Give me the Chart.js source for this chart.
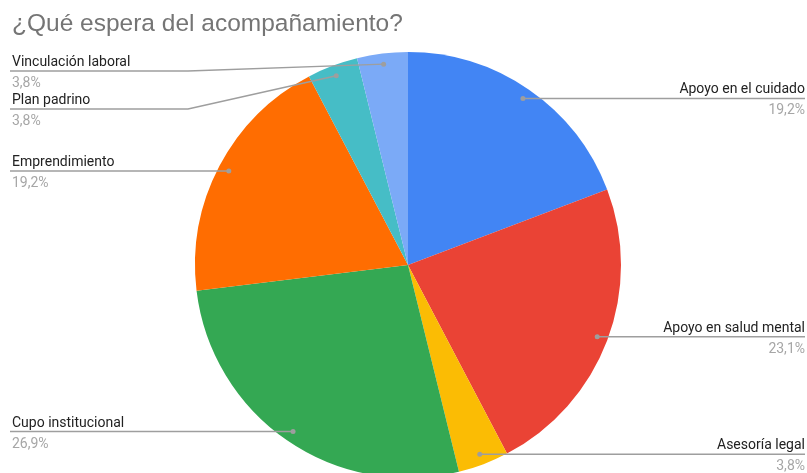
<!DOCTYPE html>
<html>
<head>
<meta charset="utf-8">
<script src="https://cdn.jsdelivr.net/npm/chart.js@4"></script>
<style>
  html, body { margin: 0; padding: 0; background: #fff; }
  #wrap { position: relative; width: 807px; height: 473px; overflow: hidden; }
  canvas { display: block; }
</style>
</head>
<body>
<div id="wrap"><canvas id="c" width="807" height="500"></canvas></div>
<script>
const titleText = "¿Qué espera del acompañamiento?";
const categories = ["Apoyo en el cuidado", "Apoyo en salud mental", "Asesoría legal", "Cupo institucional", "Emprendimiento", "Plan padrino", "Vinculación laboral"];
const counts = [5, 6, 1, 7, 5, 1, 1];
const sliceColors = ["#4285F4", "#EA4335", "#FBBC04", "#34A853", "#FF6D01", "#46BDC6", "#7BAAF7"];

const labelFont = "14px Roboto";
const titleFont = "24.5px 'Liberation Sans', Arial, sans-serif";

const leaderPlugin = {
  id: 'leaders',
  afterDraw(chart) {
    const ctx = chart.ctx;
    const meta = chart.getDatasetMeta(0);
    const data = chart.data.datasets[0].data;
    const total = data.reduce((a, b) => a + b, 0);
    const W = chart.width;
    const items = [];
    meta.data.forEach((arc, i) => {
      const p = arc.getProps(['x', 'y', 'startAngle', 'endAngle', 'outerRadius'], true);
      const mid = (p.startAngle + p.endAngle) / 2;
      const r = p.outerRadius * 0.95;
      const px = p.x + Math.cos(mid) * r;
      const py = p.y + Math.sin(mid) * r;
      items.push({ i, px, py, cx: p.x, R: p.outerRadius, right: px >= p.x,
        label: chart.data.labels[i],
        pct: (data[i] / total * 100).toFixed(1).replace('.', ',') + '%' });
    });
    const gap = 38, minY = 71;
    ['left', 'right'].forEach(side => {
      const list = items.filter(it => (side === 'right') === it.right).sort((a, b) => a.py - b.py);
      let prev = -Infinity;
      list.forEach(it => {
        it.ly = Math.max(it.py, prev + gap, minY);
        prev = it.ly;
      });
    });
    ctx.save();
    items.forEach(it => {
      const kinkX = it.right ? it.cx + it.R + 7 : it.cx - it.R - 7;
      const edgeX = it.right ? W - 2 : 10;
      ctx.strokeStyle = '#9e9e9e';
      ctx.lineWidth = 1.5;
      ctx.beginPath();
      ctx.moveTo(edgeX, it.ly);
      ctx.lineTo(kinkX, it.ly);
      ctx.lineTo(it.px, it.py);
      ctx.stroke();
      ctx.fillStyle = '#9e9e9e';
      ctx.beginPath();
      ctx.arc(it.px, it.py, 2.5, 0, Math.PI * 2);
      ctx.fill();
      ctx.font = labelFont;
      ctx.textBaseline = 'alphabetic';
      ctx.textAlign = it.right ? 'right' : 'left';
      const tx = it.right ? W - 2 : 12;
      ctx.fillStyle = '#222222';
      ctx.fillText(it.label, tx, it.ly - 5);
      ctx.fillStyle = '#a6a6a6';
      ctx.fillText(it.pct, tx, it.ly + 16);
    });
    ctx.font = titleFont;
    ctx.fillStyle = '#757575';
    ctx.textAlign = 'left';
    ctx.textBaseline = 'alphabetic';
    ctx.fillText(titleText, 12, 31);
    ctx.restore();
  }
};

new Chart(document.getElementById('c'), {
  type: 'pie',
  data: {
    labels: categories,
    datasets: [{ data: counts, backgroundColor: sliceColors, borderWidth: 0 }]
  },
  options: {
    responsive: false,
    animation: false,
    layout: { padding: { left: 195, right: 186, top: 52, bottom: 22 } },
    plugins: { legend: { display: false }, tooltip: { enabled: false }, title: { display: false } }
  },
  plugins: [leaderPlugin]
});
</script>
</body>
</html>
